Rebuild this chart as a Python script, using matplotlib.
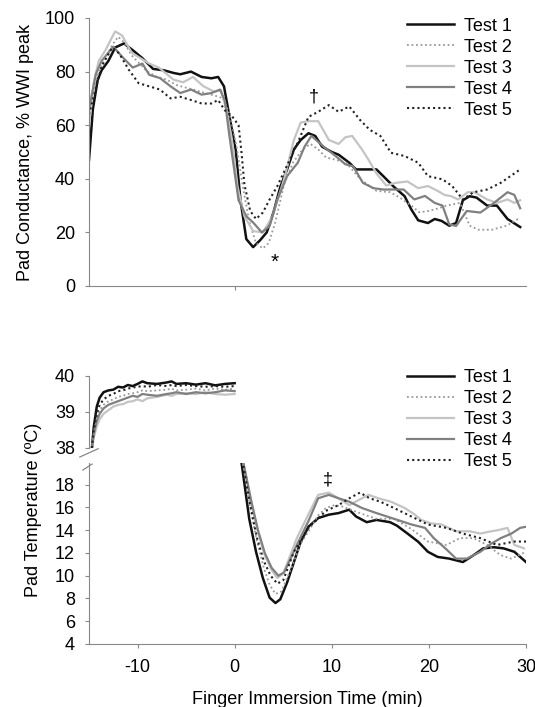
import matplotlib
matplotlib.use("Agg")
import matplotlib.pyplot as plt

plt.rcParams['font.family'] = ['Liberation Sans', 'DejaVu Sans']
plt.rcParams['axes.unicode_minus'] = False

# ---- data: pad conductance (% WWI peak) vs time (min) ----
c1_t = [-15, -14.6, -14.1, -13.7, -13.0, -12.3, -11.4, -10.5, -9.5, -8.4, -7.3, -6.3, -5.6, -4.5, -3.4, -2.4,
        -1.7, -1.1, -0.6, 0.1, 0.6, 1.2, 1.9, 2.6, 3.3, 4.0, 4.7, 5.4, 6.1, 6.8, 7.6, 8.3, 9.0, 10.0, 10.7,
        11.8, 12.5, 13.6, 14.6, 15.3, 16.4, 17.5, 18.2, 18.9, 19.9, 20.6, 21.3, 22.1, 22.8, 23.5, 24.2, 24.9,
        26.0, 27.0, 28.1, 29.4]
c1_v = [47, 66, 77, 80.5, 84, 89, 90.5, 88, 85, 81, 80.5, 79.5, 79, 80, 78, 77.5, 78, 74.5, 64.5, 51, 32,
        17.5, 14.5, 17, 20, 27.5, 37, 43.5, 51, 54.5, 57, 56, 52, 50, 49, 46, 43.5, 43.5, 43.5, 41, 37, 33.5,
        28.5, 24.5, 23.5, 25, 24.3, 22.5, 23.5, 32, 33.5, 33, 30, 30, 25, 22]

c2_t = [-15, -14.5, -14, -13.3, -12.6, -12.0, -11.4, -10.6, -9.8, -9.0, -8.0, -7.0, -6.0, -5.0, -4.0, -3.0,
        -2.0, -1.2, -0.5, 0.2, 0.8, 1.5, 2.2, 2.9, 3.5, 4.2, 5.1, 6.0, 7.0, 7.8, 8.6, 9.4, 10.5, 11.5, 12.9,
        14.0, 14.6, 16.0, 17.0, 18.2, 19.0, 20.0, 21.0, 21.8, 23.2, 24.2, 25.1, 26.5, 28.0, 29.4]
c2_v = [62, 74, 80, 85, 90, 93, 91, 86, 83, 80, 78, 77, 75, 74, 73, 72, 71, 70, 64, 52, 38, 24, 16, 14, 16,
        24, 38, 46, 51, 53, 51, 48, 47, 46, 40, 37, 35.5, 35, 33, 30, 27.5, 28, 29, 30, 31, 22.5, 21, 21,
        22.5, 25.5]

c3_t = [-15, -14.5, -14, -13.3, -12.6, -12.3, -11.6, -10.6, -9.7, -8.8, -7.8, -6.3, -5.3, -4.3, -3.2, -2.1,
        -1.4, -0.8, -0.3, 0.3, 1.0, 1.9, 2.9, 3.9, 5.1, 6.1, 6.8, 7.6, 8.6, 9.7, 10.7, 11.4, 12.1, 13.1, 13.8,
        14.6, 15.6, 16.6, 17.8, 18.9, 19.9, 20.9, 21.6, 22.3, 23.0, 24.0, 24.7, 26.0, 27.0, 28.1, 28.8, 29.4]
c3_v = [60, 76, 84, 88, 93, 95, 93.5, 87, 85, 83, 81.5, 77, 76, 78, 74.5, 72.5, 73, 65, 55, 37, 26, 20.5,
        20, 26, 40, 54.5, 61, 61.5, 61.5, 54.5, 53, 55.5, 56, 51, 47, 42, 37.5, 38.5, 39, 36.5, 37.3, 35.5,
        34, 33.5, 32.3, 35, 35, 32.3, 31, 32.3, 31, 32]

c4_t = [-15, -14.3, -13.7, -12.5, -11.6, -10.5, -9.5, -8.8, -7.7, -6.6, -5.6, -4.5, -3.4, -2.4, -1.5, -1.0,
        -0.6, 0.4, 1.2, 1.9, 2.8, 3.6, 4.4, 5.4, 6.5, 7.2, 7.9, 9.3, 10.4, 11.4, 12.2, 13.2, 14.3, 15.3, 16.4,
        17.4, 18.5, 19.6, 20.6, 21.4, 22.1, 22.8, 23.9, 25.3, 26.7, 28.1, 28.8, 29.4]
c4_v = [66, 79, 84, 89.3, 85.6, 81.5, 83, 78.8, 77.6, 74.5, 72, 73.3, 71.4, 72, 73.3, 69, 57.6, 32, 26,
        23.7, 20, 22.4, 32.3, 41, 46, 52, 56, 51.6, 48.5, 45.4, 44.7, 38.5, 36.5, 36, 36, 36, 32.3, 33.6, 31,
        30, 23, 22.4, 28, 27.4, 31, 35, 34, 29]

c5_t = [-15, -13.7, -12.6, -11.9, -10.9, -9.9, -8.8, -7.7, -6.6, -5.6, -4.5, -3.4, -2.4, -1.7, -1.0, -0.3,
        0.4, 0.7, 1.0, 1.6, 2.2, 2.9, 3.6, 4.4, 5.4, 6.5, 7.6, 8.6, 9.7, 10.7, 11.8, 12.9, 13.9, 15.0, 16.1,
        17.5, 18.9, 19.9, 21.4, 22.4, 23.5, 24.6, 26.0, 27.4, 29.4]
c5_v = [64, 82, 89, 86.8, 80.7, 75.7, 74.5, 73.3, 70, 70.6, 69.4, 68.1, 68.1, 69.4, 65.5, 63.5, 60, 50, 38,
        28, 25, 27.4, 32.3, 37.3, 45, 53.5, 63.1, 65, 67.5, 65, 67, 62, 58.3, 56, 49.7, 48.5, 46, 41, 39.8,
        37.3, 32.3, 35, 36, 38.5, 43.5]

# ---- data: pad temperature (degC) before immersion ----
pre_t = [-14.7, -14.5, -14.2, -13.9, -13.5, -13.0, -12.5, -12.0, -11.5, -11.0, -10.5, -10.0, -9.5, -9.0,
         -8.0, -7.0, -6.5, -6.0, -5.0, -4.0, -3.0, -2.0, -1.0, 0.0]
p1_v = [38.0, 38.6, 39.15, 39.4, 39.55, 39.6, 39.62, 39.7, 39.68, 39.75, 39.72, 39.78, 39.85, 39.8, 39.78,
        39.82, 39.85, 39.78, 39.8, 39.76, 39.8, 39.74, 39.78, 39.8]
p2_v = [38.0, 38.4, 38.85, 39.05, 39.2, 39.3, 39.35, 39.42, 39.45, 39.5, 39.52, 39.55, 39.6, 39.58, 39.6,
        39.62, 39.65, 39.6, 39.62, 39.65, 39.6, 39.65, 39.62, 39.65]
p3_v = [38.0, 38.3, 38.6, 38.8, 38.95, 39.05, 39.15, 39.2, 39.22, 39.28, 39.3, 39.35, 39.3, 39.38, 39.42,
        39.48, 39.45, 39.5, 39.52, 39.5, 39.55, 39.5, 39.48, 39.5]
p4_v = [38.0, 38.4, 38.75, 38.95, 39.1, 39.2, 39.25, 39.3, 39.35, 39.4, 39.45, 39.42, 39.5, 39.48, 39.45,
        39.5, 39.52, 39.55, 39.5, 39.55, 39.52, 39.55, 39.6, 39.58]
p5_v = [38.0, 38.5, 38.95, 39.2, 39.35, 39.45, 39.5, 39.58, 39.6, 39.65, 39.68, 39.7, 39.72, 39.7, 39.75,
        39.72, 39.75, 39.72, 39.75, 39.72, 39.7, 39.72, 39.7, 39.72]

# ---- data: pad temperature (degC) during immersion ----
i1_t = [0.6, 0.7, 1.5, 2.2, 2.9, 3.6, 4.2, 4.7, 5.4, 6.1, 6.8, 7.6, 8.6, 9.7, 10.7, 11.8, 12.5, 13.6, 14.6,
        16.0, 16.7, 17.8, 18.9, 19.9, 20.9, 22.1, 23.5, 24.6, 25.6, 26.7, 27.7, 28.8, 30.0]
i1_v = [21, 19.97, 15.0, 12.1, 9.8, 8.07, 7.6, 7.93, 9.41, 11.2, 12.98, 14.3, 15.06, 15.36, 15.5, 15.8, 15.2,
        14.7, 14.9, 14.7, 14.4, 13.7, 12.98, 12.1, 11.65, 11.5, 11.2, 11.8, 12.4, 12.5, 12.4, 12.1, 11.2]
i2_t = [0.7, 0.85, 1.6, 2.3, 3.0, 3.6, 4.2, 4.8, 5.8, 6.8, 7.6, 8.6, 9.4, 10.3, 11.0, 12.9, 14.6, 16.4,
        18.2, 19.9, 21.8, 23.2, 24.6, 26.0, 27.4, 28.5, 30.0]
i2_v = [21, 19.9, 16, 13, 10.7, 9.2, 8.4, 8.6, 10.6, 12.8, 13.9, 15.3, 15.95, 16.2, 16.1, 15.5, 15.0, 15.0,
        14.1, 13.0, 12.7, 13.3, 13.3, 12.7, 11.8, 11.5, 12.1]
i3_t = [0.75, 0.9, 1.7, 2.4, 3.1, 3.8, 4.4, 5.0, 5.6, 6.4, 7.6, 8.6, 9.7, 10.7, 11.8, 13.1, 13.8, 14.8, 16.1,
        17.5, 18.5, 19.2, 20.2, 21.3, 22.8, 24.2, 25.3, 26.4, 27.1, 28.1, 28.8, 29.8]
i3_v = [21, 19.9, 16.5, 13.8, 11.8, 10.5, 9.8, 10.2, 11.5, 13.3, 15.4, 17.1, 17.3, 16.8, 16.2, 16.8, 17.1,
        16.8, 16.5, 15.95, 15.4, 14.9, 14.6, 14.5, 13.9, 13.9, 13.7, 13.9, 14, 14.2, 12.7, 12.4]
i4_t = [0.75, 0.9, 1.7, 2.4, 3.1, 3.8, 4.5, 5.1, 5.7, 6.4, 7.6, 8.6, 9.7, 10.7, 11.8, 13.1, 14.6, 16.4, 18.2,
        19.6, 20.5, 21.7, 22.8, 23.9, 25.3, 26.4, 27.4, 28.5, 29.4, 30.0]
i4_v = [21, 19.9, 16.6, 14.0, 12.0, 10.7, 10.0, 10.3, 11.4, 12.7, 14.8, 16.8, 17.1, 16.8, 16.5, 15.95, 15.5,
        15.0, 14.5, 14.2, 13.3, 12.4, 11.5, 11.5, 12.1, 12.8, 13.3, 13.7, 14.2, 14.3]
i5_t = [0.7, 0.85, 1.6, 2.3, 3.0, 3.7, 4.4, 5.0, 6.1, 7.6, 9.4, 10.7, 11.8, 12.9, 13.9, 15.0, 16.4, 18.2,
        19.9, 21.8, 23.5, 25.3, 27.0, 28.8, 30.0]
i5_v = [21, 19.9, 16.2, 13.3, 11.3, 10.0, 9.3, 9.6, 12.1, 14.2, 15.7, 16.2, 16.8, 17.3, 16.8, 16.5, 15.95,
        15.2, 14.5, 14.2, 13.7, 13.3, 12.7, 13.0, 13.0]

labels = ['Test 1', 'Test 2', 'Test 3', 'Test 4', 'Test 5']

# line styles per test
styles = [
    dict(color='#111111', lw=1.8, ls='-'),
    dict(color='#999999', lw=1.3, ls=(0, (1, 1.5))),
    dict(color='#c4c4c4', lw=1.6, ls='-'),
    dict(color='#808080', lw=1.6, ls='-'),
    dict(color='#222222', lw=1.5, ls=(0, (1, 1.5))),
]

cond = [(c1_t, c1_v), (c2_t, c2_v), (c3_t, c3_v), (c4_t, c4_v), (c5_t, c5_v)]
pre = [p1_v, p2_v, p3_v, p4_v, p5_v]
imm = [(i1_t, i1_v), (i2_t, i2_v), (i3_t, i3_v), (i4_t, i4_v), (i5_t, i5_v)]

FS = 13
spine_col = '#888888'
L, W = 89 / 535, 437 / 535

fig = plt.figure(figsize=(5.35, 7.07), dpi=100)
ax1 = fig.add_axes([L, 1 - 286 / 707, W, 268 / 707])
ax2 = fig.add_axes([L, 1 - 448 / 707, W, 72 / 707])
ax3 = fig.add_axes([L, 1 - 644 / 707, W, 181 / 707])
# keep the upper segment (and its legend) above the lower one
ax2.set_zorder(3)
ax2.patch.set_visible(False)
ax3.patch.set_visible(False)


def style_axes(ax):
    for s in ['top', 'right']:
        ax.spines[s].set_visible(False)
    for s in ['left', 'bottom']:
        ax.spines[s].set_color(spine_col)
    ax.tick_params(colors=spine_col, labelcolor='black', labelsize=FS, length=3, width=0.8)
    ax.tick_params(axis='y', pad=7)
    ax.tick_params(axis='x', pad=8)
    ax.set_xlim(-15, 30)


legend_kw = dict(loc='upper right', bbox_transform=fig.transFigure, frameon=False, fontsize=FS,
                 handlelength=2.6, handletextpad=0.55, labelspacing=0.22, borderpad=0, borderaxespad=0)

# top panel
style_axes(ax1)
for (t, v), st, lab in zip(cond, styles, labels):
    ax1.plot(t, v, label=lab, **st)
ax1.set_ylim(0, 100)
ax1.set_yticks([0, 20, 40, 60, 80, 100])
ax1.set_xticks([0])
ax1.set_xticklabels([])
ax1.text(4.1, 9, '*', ha='center', va='center', fontsize=FS + 2)
ax1.text(8.2, 70.5, '\u2020', ha='center', va='center', fontsize=FS)
ax1.legend(bbox_to_anchor=(512 / 535, 0.975), **legend_kw)
fig.text(26 / 535, 1 - 152 / 707, 'Pad Conductance, % WWI peak', rotation=90, ha='center',
         va='center', fontsize=FS)

# bottom panel, upper segment
style_axes(ax2)
ax2.spines['bottom'].set_visible(False)
ax2.tick_params(axis='x', bottom=False, labelbottom=False)
for v, st, lab in zip(pre, styles, labels):
    ax2.plot(pre_t, v, label=lab, **st)
ax2.set_ylim(38, 40)
ax2.set_yticks([38, 39, 40])
ax2.legend(bbox_to_anchor=(512 / 535, 0.478), **legend_kw)

# bottom panel, lower segment
style_axes(ax3)
for (t, v), st in zip(imm, styles):
    ax3.plot(t, v, **st)
ax3.set_ylim(4, 19.9)
ax3.set_yticks(range(4, 19, 2))
ax3.set_xticks([-10, 0, 10, 20, 30])
ax3.text(9.6, 18.4, '\u2021', ha='center', va='center', fontsize=FS)
ax3.set_xlabel('Finger Immersion Time (min)', fontsize=FS)
ax3.xaxis.set_label_coords(0.5, -0.26)

# axis break marks
kw = dict(color=spine_col, lw=0.9, clip_on=False)
ax2.plot([-0.021, 0.021], [-0.125, -0.01], transform=ax2.transAxes, **kw)
ax3.plot([-0.014, 0.007], [0.961, 0.994], transform=ax3.transAxes, **kw)

fig.text(34 / 535, 1 - 510 / 707, 'Pad Temperature (\u00baC)', rotation=90, ha='center',
         va='center', fontsize=FS)

fig.savefig('out.png', dpi=100)
